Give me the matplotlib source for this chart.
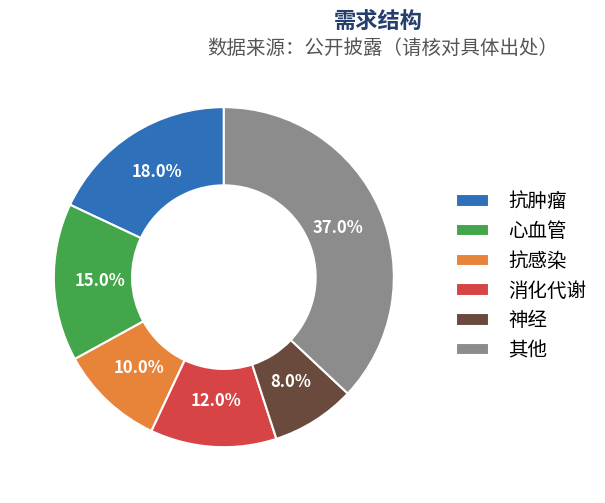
import matplotlib
matplotlib.use("Agg")
import matplotlib.pyplot as plt

plt.rcParams['font.family'] = ['Noto Sans CJK SC', 'DejaVu Sans']

categories = ['抗肿瘤', '心血管', '抗感染', '消化代谢', '神经', '其他']
values = [18.0, 15.0, 10.0, 12.0, 8.0, 37.0]
colors = ['#2f70bb', '#43a64b', '#e8833a', '#d64446', '#6b4a3e', '#8c8c8c']
title = '需求结构'
subtitle = '数据来源：公开披露（请核对具体出处）'

fig = plt.figure(figsize=(6.05, 5.03), dpi=100)
ax = fig.add_axes([0.089, 0.111, 0.562, 0.676])
wedges, texts, autotexts = ax.pie(
    values, colors=colors, startangle=90, counterclock=True,
    autopct='%1.1f%%', pctdistance=0.73,
    wedgeprops=dict(width=0.46, edgecolor='white', linewidth=1.5),
    textprops=dict(color='white', fontsize=12, fontweight='bold'))
ax.set_xlim(-1, 1)
ax.set_ylim(-1, 1)
ax.set_aspect('auto')

fig.text(0.625, 0.958, title, ha='center', va='center', fontsize=16,
         fontweight='bold', color='#243f6b')
fig.text(0.632, 0.903, subtitle, ha='center', va='center', fontsize=14,
         color='#555555')

leg = fig.legend(wedges, categories, loc='center left',
                 bbox_to_anchor=(0.725, 0.451), frameon=False, fontsize=14,
                 handlelength=1.7, handleheight=0.6, labelspacing=0.45,
                 handletextpad=1.0)
fig.savefig('out.png', dpi=100)
